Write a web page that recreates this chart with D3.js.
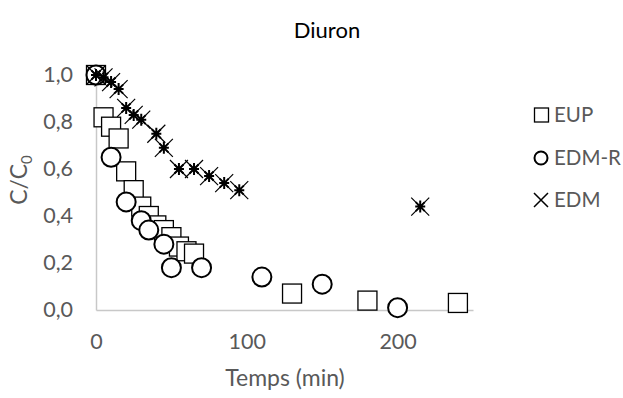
<!DOCTYPE html>
<html><head><meta charset="utf-8">
<script src="https://cdn.jsdelivr.net/npm/d3@7"></script>
<style>body{margin:0;background:#fff}svg text{font-family:Lato,'Open Sans',sans-serif}</style>
</head><body><svg id="c" width="623" height="398"></svg>
<script>
const eupTime=[0,5,10,15,20,25,30,35,40,45,50,55,60,65,130,180,240];
const eupValue=[1.0,0.82,0.78,0.73,0.59,0.51,0.44,0.40,0.36,0.34,0.31,0.27,0.25,0.24,0.07,0.04,0.03];
const edmrTime=[0,10,20,30,35,45,50,70,110,150,200];
const edmrValue=[1.0,0.65,0.46,0.38,0.34,0.28,0.18,0.18,0.14,0.11,0.01];
const edmTime=[0,5,10,15,20,25,30,40,45,55,65,75,85,95,215];
const edmValue=[1.0,0.99,0.97,0.94,0.86,0.83,0.81,0.75,0.69,0.60,0.60,0.57,0.54,0.51,0.44];
const xTicks=[0,100,200];
const yTicks=[0,0.2,0.4,0.6,0.8,1.0];
const seriesNames=["EUP","EDM-R","EDM"];
const titleText="Diuron";
const xTitle="Temps (min)";

const svg=d3.select("#c");
const x=d3.scaleLinear().domain([0,250]).range([96,473]);
const y=d3.scaleLinear().domain([0,1]).range([310,75]);
const txt="#595959", axisCol="#c8c8c8";

// axes
const fmt=d=>d3.format(".1f")(d).replace(".",",");
const gy=svg.append("g").attr("transform","translate(96,0)")
  .call(d3.axisLeft(y).tickValues(yTicks).tickFormat(fmt).tickSize(0).tickPadding(23));
const gx=svg.append("g").attr("transform","translate(0,310)")
  .call(d3.axisBottom(x).tickValues(xTicks).tickFormat(d3.format("d")).tickSize(0).tickPadding(24));
[gx,gy].forEach(g=>{
  g.select(".domain").attr("stroke",axisCol).attr("stroke-width",1.5);
  g.selectAll("text").attr("fill",txt).style("font-size","21.5px");
});

// titles
svg.append("text").attr("x",327).attr("y",38).attr("text-anchor","middle")
  .attr("fill","#000").style("font-size","22px").text(titleText);
svg.append("text").attr("x",285).attr("y",386).attr("text-anchor","middle")
  .attr("fill",txt).style("font-size","23px").text(xTitle);
const yt=svg.append("text").attr("transform","translate(27,180) rotate(-90)")
  .attr("text-anchor","middle").attr("fill",txt).style("font-size","23px");
yt.append("tspan").text("C/C");
yt.append("tspan").attr("dy",5).style("font-size","15px").text("0");

// markers
function square(g,cx,cy,s){g.append("rect").attr("x",cx-s/2).attr("y",cy-s/2).attr("width",s).attr("height",s)
  .attr("fill","#fff").attr("stroke","#000").attr("stroke-width",1.3);}
function circle(g,cx,cy,r){g.append("circle").attr("cx",cx).attr("cy",cy).attr("r",r)
  .attr("fill","#fff").attr("stroke","#000").attr("stroke-width",2);}
function star(g,cx,cy){
  const a=9;
  g.append("path").attr("d",`M${cx-a},${cy+a}L${cx+a},${cy-a}M${cx-a},${cy-a}L${cx+a},${cy+a}`)
    .attr("stroke","#000").attr("stroke-width",1.2).attr("fill","none");
  g.append("path").attr("d",`M${cx},${cy-6}V${cy+6}M${cx-5},${cy}H${cx+5}M${cx-4.5},${cy-4.5}L${cx+4.5},${cy+4.5}M${cx-4.5},${cy+4.5}L${cx+4.5},${cy-4.5}`)
    .attr("stroke","#000").attr("stroke-width",2).attr("fill","none");
}
function xmark(g,cx,cy,a){g.append("path").attr("d",`M${cx-a},${cy+a}L${cx+a},${cy-a}M${cx-a},${cy-a}L${cx+a},${cy+a}`)
  .attr("stroke","#000").attr("stroke-width",1.5).attr("fill","none");}

const gm=svg.append("g");
eupTime.forEach((t,i)=>square(gm,x(t),y(eupValue[i]),19));
edmrTime.forEach((t,i)=>circle(gm,x(t),y(edmrValue[i]),9.5));
edmTime.forEach((t,i)=>star(gm,x(t),y(edmValue[i])));

// legend
const lg=svg.append("g");
square(lg,541.5,115,14);
circle(lg,541,158,6.5);
xmark(lg,541,200,7);
[[115,seriesNames[0]],[158,seriesNames[1]],[200,seriesNames[2]]].forEach(([ly,name])=>{
  lg.append("text").attr("x",554).attr("y",ly+7).attr("fill",txt).style("font-size","20.5px").text(name);
});
</script></body></html>
